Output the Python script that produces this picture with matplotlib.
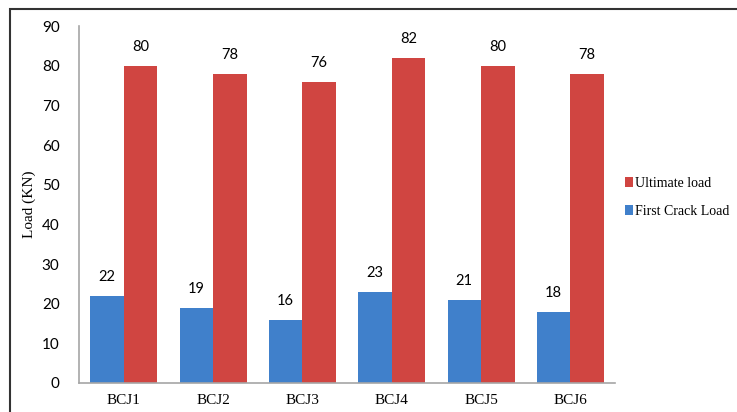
import matplotlib.pyplot as plt
import numpy as np
from matplotlib.patches import Rectangle

categories = ["BCJ1", "BCJ2", "BCJ3", "BCJ4", "BCJ5", "BCJ6"]
first_crack = [22, 19, 16, 23, 21, 18]
ultimate = [80, 78, 76, 82, 80, 78]

blue = "#4080cb"
red = "#d04541"
serif = "Liberation Serif"
sans = "Lato"

fig = plt.figure(figsize=(7.37, 4.12), dpi=100)
ax = fig.add_axes([79 / 737, 1 - 383 / 412, 536 / 737, 357 / 412])

x = np.arange(len(categories))
w = 0.375
b1 = ax.bar(x - w / 2, first_crack, w, color=blue, label="First Crack Load")
b2 = ax.bar(x + w / 2, ultimate, w, color=red, label="Ultimate load")

for bars, vals in ((b1, first_crack), (b2, ultimate)):
    for bar, v in zip(bars, vals):
        ax.text(bar.get_x() + bar.get_width() / 2, v + 3, str(v),
                ha="center", va="bottom", fontsize=10.5, family=sans)

ax.set_xlim(-0.5, len(categories) - 0.5)
ax.set_ylim(0, 90)
ax.set_yticks(range(0, 91, 10))
ax.set_xticks(x)
ax.set_xticklabels(categories, family=serif, fontsize=11)
for lab in ax.get_yticklabels():
    lab.set_family(sans)
    lab.set_fontsize(11)
ax.tick_params(length=0, pad=14)
ax.tick_params(axis="x", pad=8)
ax.set_ylabel("Load (KN)", family=serif, fontsize=11, labelpad=4)

for s in ("top", "right"):
    ax.spines[s].set_visible(False)
for s in ("left", "bottom"):
    ax.spines[s].set_color("#a6a6a6")
    ax.spines[s].set_linewidth(1.2)

handles = [b2, b1]
ax.legend(handles, [h.get_label() for h in handles], loc="center left",
          bbox_to_anchor=(1.018, 0.52), frameon=False, borderpad=0,
          borderaxespad=0,
          prop={"family": serif, "size": 10},
          handlelength=0.6, handleheight=0.7, handletextpad=0.15,
          labelspacing=1.1)

fig.patches.append(Rectangle((10 / 737, -0.2), 1.2, 1.2 - 9 / 412,
                             transform=fig.transFigure, fill=False,
                             edgecolor="#333333", linewidth=1.5))

fig.savefig("out.png", dpi=100)
